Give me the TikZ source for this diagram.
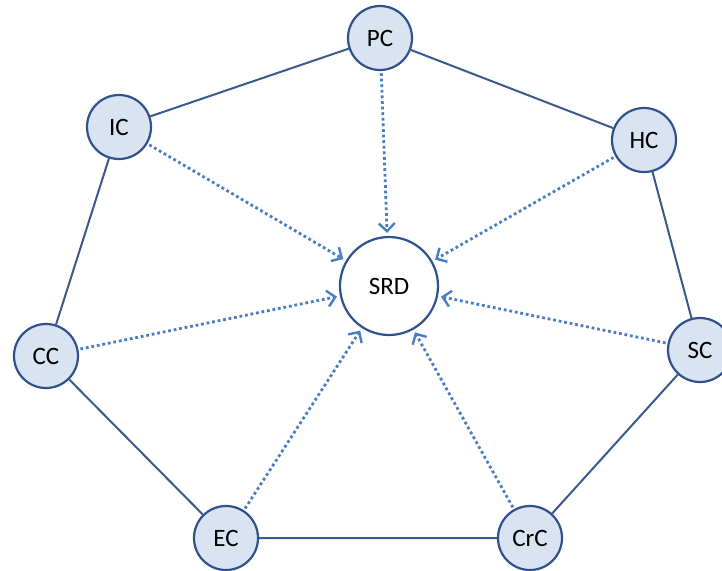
\documentclass[tikz,border=0pt]{standalone}
\usepackage{fontspec}
\setmainfont{Carlito}
\usetikzlibrary{arrows.meta}
\definecolor{nodefill}{HTML}{DAE3F1}
\definecolor{nodeline}{HTML}{2F528F}
\definecolor{ringline}{HTML}{3A5A8E}
\definecolor{arrowblue}{HTML}{4A7EC4}
\begin{document}
\begin{tikzpicture}[x=1pt,y=-1pt,
  outer/.style={circle,draw=nodeline,fill=nodefill,line width=2.2pt,
    minimum size=64pt,inner sep=0pt,font=\fontsize{25}{27}\selectfont},
  hub/.style={circle,draw=nodeline,fill=white,line width=2.2pt,
    minimum size=98pt,inner sep=0pt,font=\fontsize{25}{27}\selectfont},
  ring/.style={draw=ringline,line width=2pt},
  feed/.style={draw=arrowblue,line width=2.8pt,dash pattern=on 2.8pt off 2.8pt,
    -{Straight Barb[length=8pt,width=16pt,line width=2.4pt]},shorten <=2pt,shorten >=3pt}]
\useasboundingbox (0,0) rectangle (722,570);
\node[hub] (srd) at (389,286) {SRD};
\node[outer] (pc) at (380,38) {PC};
\node[outer] (hc) at (644,140) {HC};
\node[outer] (sc) at (700,350) {SC};
\node[outer] (crc) at (530,538) {CrC};
\node[outer] (ec) at (226,538) {EC};
\node[outer] (cc) at (46,356) {CC};
\node[outer] (ic) at (119,127) {IC};
% outer ring of components
\draw[ring] (pc) -- (hc) -- (sc) -- (crc) -- (ec) -- (cc) -- (ic) -- (pc);
% contributions toward the centre
\foreach \n in {pc,hc,sc,crc,ec,cc,ic}
  \draw[feed] (\n) -- (srd);
\end{tikzpicture}
\end{document}
